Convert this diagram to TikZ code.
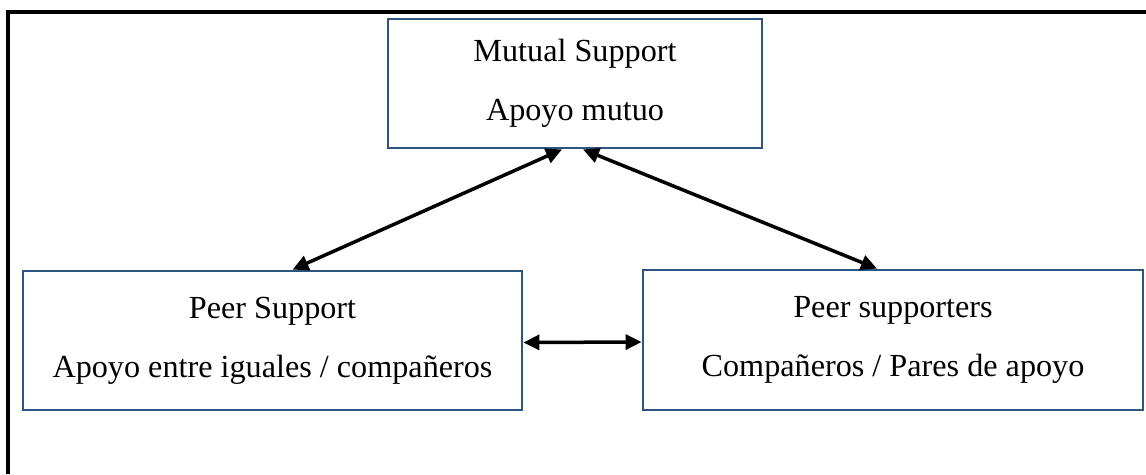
\documentclass[tikz,border=0pt]{standalone}
\usepackage{fontspec}
\setmainfont{Liberation Serif}
\usetikzlibrary{arrows.meta}
\definecolor{boxblue}{RGB}{46,84,130}
\begin{document}
\begin{tikzpicture}[x=1pt,y=-1pt,
 box/.style={draw=boxblue, line width=2.8pt, inner sep=0pt, align=center,
   font=\fontsize{32.2}{59}\selectfont},
 link/.style={line width=3.5pt, {Triangle[length=16pt,width=15pt]}-{Triangle[length=16pt,width=15pt]}},
]
\useasboundingbox (0,0) rectangle (1146,474);
\draw[line width=3.2pt] (8,474) -- (8,12) -- (1146,12);
\node[box, minimum width=374pt, minimum height=129pt] (top) at (575,83.5) {Mutual Support\\Apoyo mutuo};
\node[box, minimum width=499pt, minimum height=139pt] (left) at (272.5,340.5) {Peer Support\\Apoyo entre iguales / compañeros};
\node[box, minimum width=500pt, minimum height=140pt] (right) at (893,340) {Peer supporters\\Compañeros / Pares de apoyo};
\draw[link] ([xshift=-13pt]top.south) -- ([xshift=20pt]left.north);
\draw[link] ([xshift=8pt]top.south) -- ([xshift=-16pt]right.north);
\draw[link] ([yshift=-2pt]left.east) -- ([yshift=-2pt]right.west);
\end{tikzpicture}
\end{document}
